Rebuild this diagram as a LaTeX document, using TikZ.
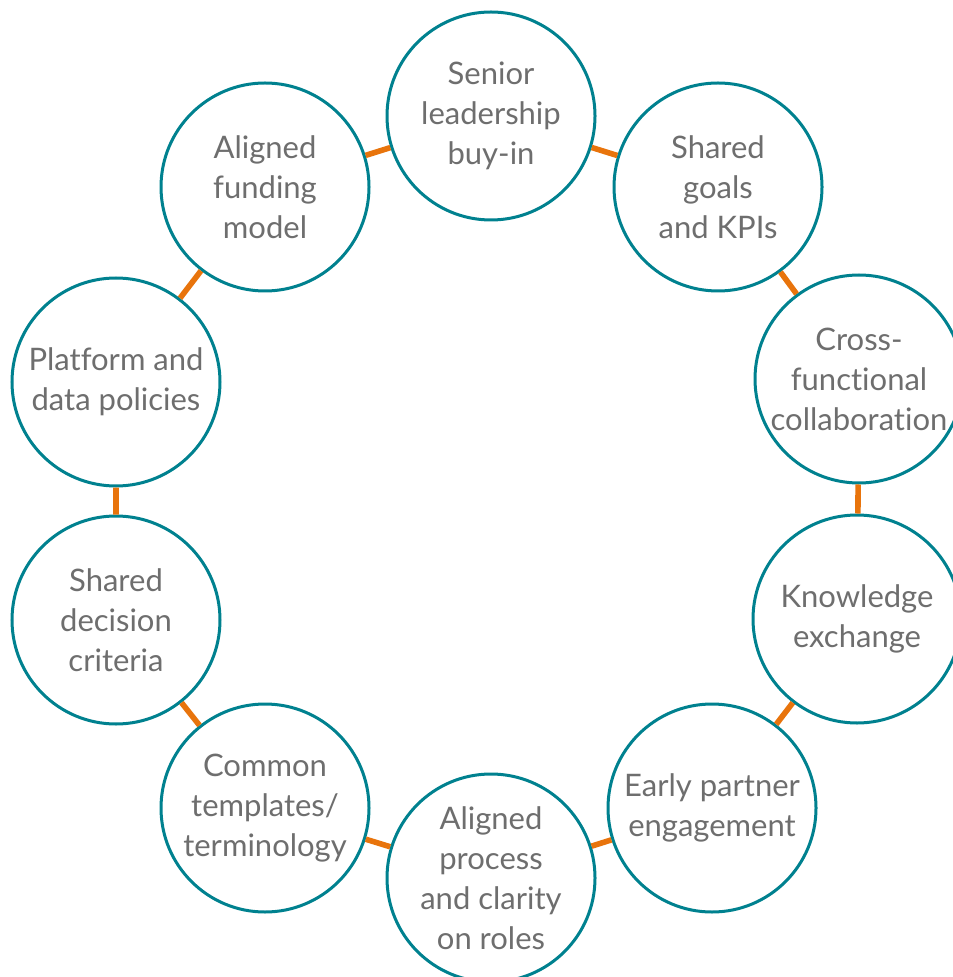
\documentclass[tikz,border=0pt]{standalone}
\usepackage{fontspec}
\setmainfont{Lato}[Ligatures=NoCommon]
\usepackage{tikz}
\usetikzlibrary{positioning}
\definecolor{ringTeal}{RGB}{0,129,143}
\definecolor{linkOrange}{RGB}{232,116,12}
\definecolor{labelGrey}{RGB}{110,110,110}
\tikzset{
    x=0.5pt, y=-0.5pt, % one unit is half a point, y runs downwards
    topic/.style={circle, draw=ringTeal, line width=1.5pt, fill=white,
                  minimum size=104pt, inner sep=0pt, align=center,
                  text=labelGrey, font=\fontsize{15.5}{20}\selectfont}, % the round boxes
    link/.style={draw=linkOrange, line width=2.8pt}, % the joints between boxes
}

\begin{document}
\begin{tikzpicture}
    \useasboundingbox (0,0) rectangle (952,977);
    \node[topic] (senior)    at (491,116)   {Senior\\leadership\\buy-in};
    \node[topic] (goals)     at (718,187)   {Shared\\goals\\and KPIs};
    \node[topic] (crossfunc) at (859,379)   {Cross-\\functional\\collaboration};
    \node[topic] (knowledge) at (857,619)   {Knowledge\\exchange};
    \node[topic] (partner)   at (712,808)   {Early partner\\engagement};
    \node[topic] (process)   at (491,878)   {Aligned\\process\\and clarity\\on roles};
    \node[topic] (templates) at (265,808)   {Common\\templates/\\terminology};
    \node[topic] (decision)  at (116,620)   {Shared\\decision\\criteria};
    \node[topic] (platform)  at (116,382)   {Platform and\\data policies};
    \node[topic] (funding)   at (265,187)   {Aligned\\funding\\model};
    \draw[link]
    (senior) -- (goals)
    (goals) -- (crossfunc)
    (crossfunc) -- (knowledge)
    (knowledge) -- (partner)
    (partner) -- (process)
    (process) -- (templates)
    (templates) -- (decision)
    (decision) -- (platform)
    (platform) -- (funding)
    (funding) -- (senior);
\end{tikzpicture}
\end{document}
